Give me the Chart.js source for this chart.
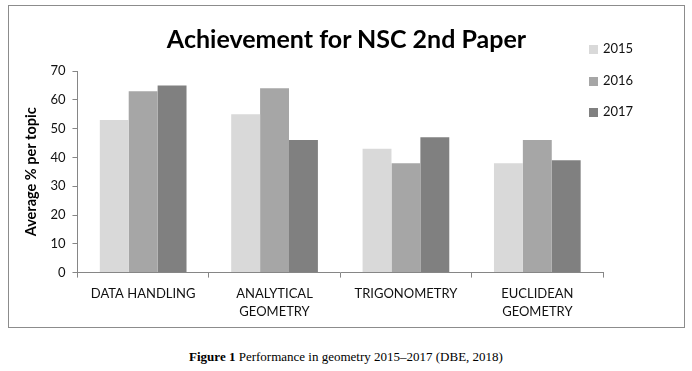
<!DOCTYPE html>
<html>
<head>
<meta charset="utf-8">
<script src="https://cdn.jsdelivr.net/npm/chart.js@4"></script>
<style>
  body { margin: 0; background: #fff; width: 692px; height: 371px; position: relative; overflow: hidden; }
  #box { position: absolute; left: 8px; top: 5px; width: 677px; height: 323px; border: 1px solid #8c8c8c; box-sizing: border-box; }
  #title { position: absolute; left: 0; width: 675px; top: 17px; text-align: center; font: bold 25px Lato, sans-serif; color: #000; line-height: 30px; }
  #legend { position: absolute; left: 580px; top: 33px; font: 13px Lato, sans-serif; color: #111; }
  #legend div { height: 31.5px; line-height: 18px; white-space: nowrap; }
  #legend span { display: inline-block; width: 9px; height: 9px; margin-right: 5px; vertical-align: -1px; }
  #caption { position: absolute; left: 0; width: 692px; top: 349px; text-align: center; font: 13px "Liberation Serif", serif; color: #000; }
</style>
</head>
<body>
<div id="box">
  <canvas id="chart" width="675" height="321"></canvas>
  <div id="title">Achievement for NSC 2nd Paper</div>
  <div id="legend"></div>
</div>
<div id="caption"><b>Figure 1</b> Performance in geometry 2015–2017 (DBE, 2018)</div>
<script>
const topics = [['DATA HANDLING'], ['ANALYTICAL', 'GEOMETRY'], ['TRIGONOMETRY'], ['EUCLIDEAN', 'GEOMETRY']];
const years = ['2015', '2016', '2017'];
const values2015 = [53, 55, 43, 38];
const values2016 = [63, 64, 38, 46];
const values2017 = [65, 46, 47, 39];
const colors = ['#d9d9d9', '#a6a6a6', '#808080'];
const yTicks = [0, 10, 20, 30, 40, 50, 60, 70];

const series = [values2015, values2016, values2017];

const legend = document.getElementById('legend');
years.forEach(function (y, i) {
  const row = document.createElement('div');
  row.innerHTML = '<span style="background:' + colors[i] + '"></span>' + y;
  legend.appendChild(row);
});

new Chart(document.getElementById('chart'), {
  type: 'bar',
  data: {
    labels: topics,
    datasets: series.map(function (vals, i) {
      return {
        label: years[i],
        data: vals,
        backgroundColor: colors[i],
        categoryPercentage: 0.66,
        barPercentage: 1.0,
      };
    })
  },
  options: {
    responsive: false,
    animation: false,
    layout: {
      padding: { left: 10, right: 81, top: 65, bottom: -1 }
    },
    plugins: {
      legend: { display: false },
      tooltip: { enabled: false },
      title: { display: false }
    },
    scales: {
      x: {
        border: { display: true, color: '#868686' },
        grid: { drawOnChartArea: false, drawTicks: true, tickLength: 5, color: '#868686' },
        ticks: {
          color: '#111',
          padding: 7,
          maxRotation: 0,
          autoSkip: false,
          font: { family: 'Lato', size: 13, lineHeight: 1.4 }
        }
      },
      y: {
        min: 0,
        max: 70,
        afterBuildTicks: function (scale) {
          scale.ticks = yTicks.map(function (v) { return { value: v }; });
        },
        border: { display: true, color: '#868686' },
        grid: { drawOnChartArea: false, drawTicks: true, tickLength: 5, color: '#868686' },
        ticks: {
          color: '#111',
          padding: 7,
          font: { family: 'Lato', size: 13 }
        },
        title: {
          display: true,
          text: 'Average % per topic',
          color: '#000',
          padding: { top: 4, bottom: 3 },
          font: { family: 'Lato', size: 14.5, weight: 'bold' }
        }
      }
    }
  }
});
</script>
</body>
</html>
